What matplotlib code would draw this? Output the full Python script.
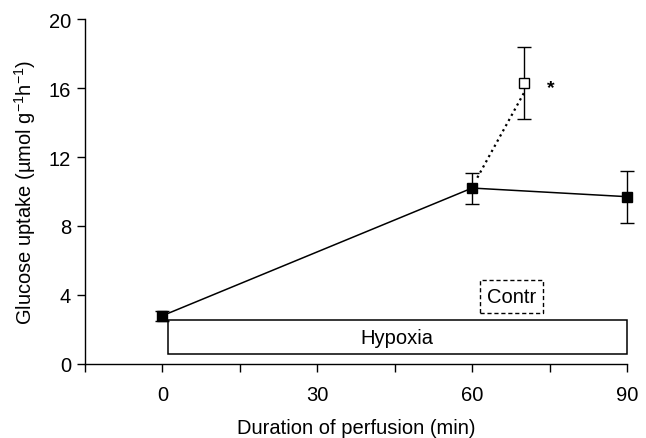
import matplotlib
matplotlib.use("Agg")
import matplotlib.pyplot as plt
from matplotlib.patches import Rectangle
from matplotlib.ticker import MultipleLocator

plt.rcParams["font.family"] = ["Liberation Sans", "DejaVu Sans"]

# hypoxia series
hyp_t = [0, 60, 90]
hyp_y = [2.8, 10.2, 9.7]
hyp_err = [0.3, 0.9, 1.5]

# control (reoxygenated) point
ctr_t = [70]
ctr_y = [16.3]
ctr_err = [2.1]

fig = plt.figure(figsize=(6.46, 4.39), dpi=100)
ax = fig.add_axes([0.1316, 0.1686, 0.8390, 0.7858])

ax.errorbar(hyp_t, hyp_y, yerr=hyp_err, fmt="-s", color="black", mfc="black",
            ms=7, lw=1.1, elinewidth=1.0, capsize=5, capthick=1.0, zorder=4,
            clip_on=False)
ax.plot([hyp_t[1] + 1, ctr_t[0]], [hyp_y[1] + 0.6, ctr_y[0] - 0.6], ":",
        color="black", lw=1.6, zorder=3)
ax.errorbar(ctr_t, ctr_y, yerr=ctr_err, fmt="s", color="black", mfc="white",
            ms=7, elinewidth=1.0, capsize=5, capthick=1.0, zorder=5)
ax.text(74.5, ctr_y[0] - 0.3, "*", fontsize=14, va="center", ha="left",
        fontweight="bold")

# period boxes
ax.add_patch(Rectangle((1, 0.55), 89, 2.0, fill=False, lw=1.1, ec="black",
                       zorder=2, clip_on=False))
ax.text(45.5, 1.55, "Hypoxia", ha="center", va="center", fontsize=14.5)
ax.add_patch(Rectangle((61.5, 2.95), 12.2, 1.9, fill=False, lw=1.0, ec="black",
                       ls=(0, (3, 2))))
ax.text(67.6, 3.9, "Contr", ha="center", va="center", fontsize=14.5)

ax.set_xlim(-15, 90)
ax.set_ylim(0, 20)
ax.set_xticks([0, 30, 60, 90])
ax.xaxis.set_minor_locator(MultipleLocator(15))
ax.set_yticks([0, 4, 8, 12, 16, 20])
for s in ["top", "right"]:
    ax.spines[s].set_visible(False)
ax.spines["left"].set_linewidth(1.0)
ax.spines["bottom"].set_linewidth(1.0)
ax.tick_params(axis="both", which="both", direction="out", length=6, width=1.0,
               labelsize=14.5)
ax.tick_params(axis="x", which="major", pad=9)
ax.tick_params(axis="y", pad=4)

ax.set_xlabel("Duration of perfusion (min)", fontsize=14.5, labelpad=10)
ax.set_ylabel(r"Glucose uptake (µmol g$^{\mathregular{-1}}$h$^{\mathregular{-1}}$)",
              fontsize=14.5, labelpad=8)

fig.savefig("out.png", dpi=100)
